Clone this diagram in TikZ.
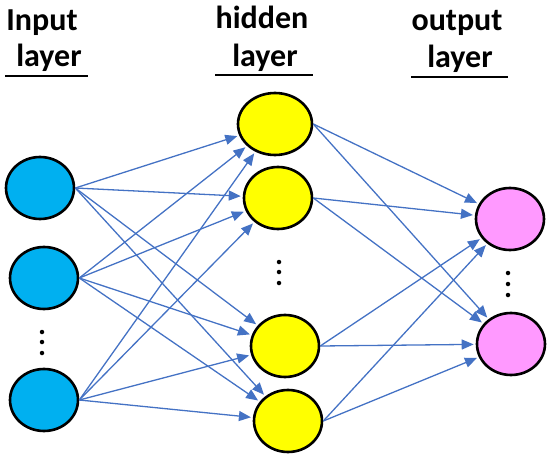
\documentclass[tikz,border=0pt]{standalone}
\usepackage{fontspec}
\setmainfont{Carlito}
\usetikzlibrary{shapes.geometric,arrows.meta}
\definecolor{inblue}{HTML}{00B0F0}
\definecolor{hidyel}{HTML}{FFFF00}
\definecolor{outpink}{HTML}{FF99FF}
\definecolor{edgeblue}{HTML}{4472C4}
\tikzset{
  neuron/.style={ellipse, draw=black, line width=2.6pt, minimum width=68pt, minimum height=62pt, inner sep=0pt},
  innode/.style={neuron, fill=inblue},
  hidnode/.style={neuron, fill=hidyel},
  outnode/.style={neuron, fill=outpink},
  lbl/.style={font=\bfseries\fontsize{32}{36}\selectfont, inner sep=0pt, anchor=base},
  uline/.style={line width=2.8pt},
  conn/.style={draw=edgeblue, line width=1.3pt, -{Triangle[length=12pt,width=10pt]}, shorten >=2pt},
  vdot/.style={circle, fill=black, inner sep=0pt, minimum size=4.5pt}
}
\begin{document}
\begin{tikzpicture}[x=1pt,y=-1pt]
\useasboundingbox (0,0) rectangle (550,458);
% labels
\node[lbl] (t1) at (42,30) {Input};
\node[lbl] (t2) at (49,66) {layer};
\node[lbl] (t3) at (262,28) {hidden};
\node[lbl] (t4) at (265,66) {layer};
\node[lbl] (t5) at (457,30) {output};
\node[lbl] (t6) at (460,67) {layer};
\coordinate (u1a) at (5,76); \coordinate (u1b) at (88,76);
\coordinate (u2a) at (215,75); \coordinate (u2b) at (313,75);
\coordinate (u3a) at (411,77); \coordinate (u3b) at (508,77);
\draw[uline] (u1a) -- (u1b);
\draw[uline] (u2a) -- (u2b);
\draw[uline] (u3a) -- (u3b);
% neurons
\node[innode] (i1) at (40,188) {};
\node[innode] (i2) at (44,278) {};
\node[innode] (i3) at (44,400) {};
\node[hidnode, minimum width=74pt] (h1) at (275,124) {};
\node[hidnode] (h2) at (278,198) {};
\node[hidnode] (h3) at (285,346) {};
\node[hidnode] (h4) at (288,421) {};
\node[outnode] (o1) at (510,219) {};
\node[outnode] (o2) at (511,344) {};
% dots
\node[vdot] (d1) at (42,332) {};
\node[vdot] (d2) at (42,342) {};
\node[vdot] (d3) at (42,353) {};
\node[vdot] (d4) at (279,262) {};
\node[vdot] (d5) at (279,272) {};
\node[vdot] (d6) at (279,283) {};
\node[vdot] (d7) at (508,273) {};
\node[vdot] (d8) at (508,284) {};
\node[vdot] (d9) at (508,295) {};
% connections
\foreach \s in {i1,i2,i3}{
  \foreach \t in {h1,h2,h3,h4}{
    \draw[conn] (\s.east) -- (\t);
  }
}
\foreach \s in {h1,h2,h3,h4}{
  \foreach \t in {o1,o2}{
    \draw[conn] (\s.east) -- (\t);
  }
}
\end{tikzpicture}
\end{document}
